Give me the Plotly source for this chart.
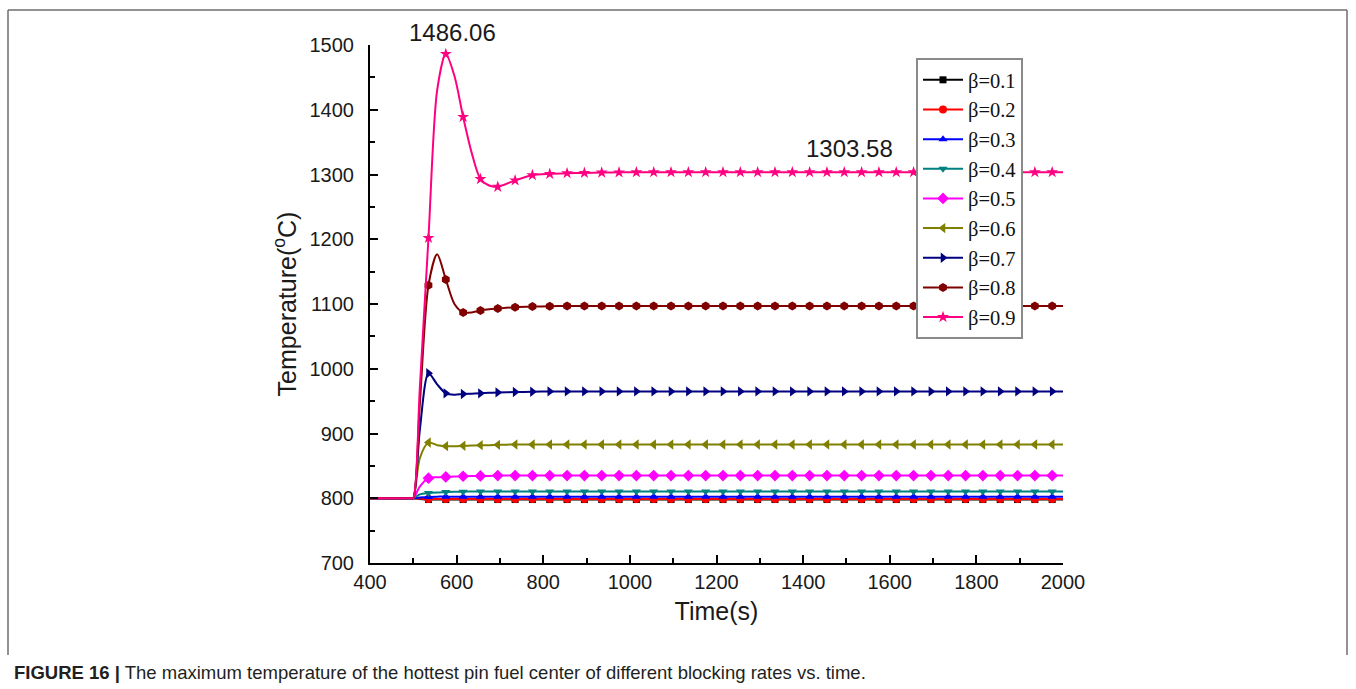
import plotly.graph_objects as go

# Time axis (s): shared sample times for every blocking-rate curve
time_s = [400, 495, 500, 515, 535, 555, 575, 595, 615, 635, 655, 675, 695,
          735, 775, 815, 855, 895, 935, 975, 1015, 1055, 1095, 1135, 1175,
          1215, 1255, 1295, 1335, 1375, 1415, 1455, 1495, 1535, 1575, 1615,
          1655, 1695, 1735, 1775, 1815, 1855, 1895, 1935, 1975, 2000]

# Marker positions along the curves (every 40 s from 535 s)
marker_times = [535, 575, 615, 655, 695, 735, 775, 815, 855, 895, 935, 975,
                1015, 1055, 1095, 1135, 1175, 1215, 1255, 1295, 1335, 1375,
                1415, 1455, 1495, 1535, 1575, 1615, 1655, 1695, 1735, 1775,
                1815, 1855, 1895, 1935, 1975]

labels = ["β=0.1", "β=0.2", "β=0.3", "β=0.4", "β=0.5",
          "β=0.6", "β=0.7", "β=0.8", "β=0.9"]

# Maximum fuel-centre temperature of the hottest pin (°C)
temp_b01 = [800, 800, 800, 799, 798, 798, 798, 798, 798, 798, 798, 798, 798,
            798, 798, 798, 798, 798, 798, 798, 798, 798, 798, 798, 798,
            798, 798, 798, 798, 798, 798, 798, 798, 798, 798, 798,
            798, 798, 798, 798, 798, 798, 798, 798, 798, 798]
temp_b02 = [800, 800, 800, 799.5, 799, 799, 799, 799, 799, 799, 799, 799, 799,
            799, 799, 799, 799, 799, 799, 799, 799, 799, 799, 799, 799,
            799, 799, 799, 799, 799, 799, 799, 799, 799, 799, 799,
            799, 799, 799, 799, 799, 799, 799, 799, 799, 799]
temp_b03 = [800, 800, 800, 801, 802, 802.5, 802.5, 802.5, 802.5, 802.5, 802.5, 802.5, 802.5,
            802.5, 802.5, 802.5, 802.5, 802.5, 802.5, 802.5, 802.5, 802.5, 802.5, 802.5, 802.5,
            802.5, 802.5, 802.5, 802.5, 802.5, 802.5, 802.5, 802.5, 802.5, 802.5, 802.5,
            802.5, 802.5, 802.5, 802.5, 802.5, 802.5, 802.5, 802.5, 802.5, 802.5]
temp_b04 = [800, 800, 800, 806, 808, 809, 809.5, 810, 810, 810.5, 810.5, 810.5, 810.5,
            810.5, 810.5, 810.5, 810.5, 810.5, 810.5, 810.5, 810.5, 810.5, 810.5, 810.5, 810.5,
            810.5, 810.5, 810.5, 810.5, 810.5, 810.5, 810.5, 810.5, 810.5, 810.5, 810.5,
            810.5, 810.5, 810.5, 810.5, 810.5, 810.5, 810.5, 810.5, 810.5, 810.5]
temp_b05 = [800, 800, 800, 818, 831, 832.5, 833, 833.5, 834, 834.5, 834.5, 834.5, 835,
            835, 835, 835, 835, 835, 835, 835, 835, 835, 835, 835, 835,
            835, 835, 835, 835, 835, 835, 835, 835, 835, 835, 835,
            835, 835, 835, 835, 835, 835, 835, 835, 835, 835]
temp_b06 = [800, 800, 800, 862, 886, 882, 880.5, 880.5, 881, 881.5, 882, 882, 882.5,
            883, 883, 883, 883, 883, 883, 883, 883, 883, 883, 883, 883,
            883, 883, 883, 883, 883, 883, 883, 883, 883, 883, 883,
            883, 883, 883, 883, 883, 883, 883, 883, 883, 883]
temp_b07 = [800, 800, 800, 905, 993, 976, 962, 960, 961, 961.5, 962, 963, 963.5,
            964, 964.5, 965, 965, 965, 965, 965, 965, 965, 965, 965, 965,
            965, 965, 965, 965, 965, 965, 965, 965, 965, 965, 965,
            965, 965, 965, 965, 965, 965, 965, 965, 965, 965]
temp_b08 = [800, 800, 800, 945, 1129, 1177, 1138, 1100, 1087, 1087, 1090, 1092, 1093,
            1095, 1096, 1096.5, 1097, 1097, 1097, 1097, 1097, 1097, 1097, 1097, 1097,
            1097, 1097, 1097, 1097, 1097, 1097, 1097, 1097, 1097, 1097, 1097,
            1097, 1097, 1097, 1097, 1097, 1097, 1097, 1097, 1097, 1097]
temp_b09 = [800, 800, 800, 970, 1202, 1430, 1486.06, 1452, 1389, 1333, 1293, 1283, 1281,
            1291, 1299, 1301, 1302, 1302.5, 1303, 1303.3, 1303.5, 1303.58, 1303.58, 1303.58, 1303.58,
            1303.58, 1303.58, 1303.58, 1303.58, 1303.58, 1303.58, 1303.58, 1303.58, 1303.58, 1303.58, 1303.58,
            1303.58, 1303.58, 1303.58, 1303.58, 1303.58, 1303.58, 1303.58, 1303.58, 1303.58, 1303.58]

peak_value = 1486.06
steady_value = 1303.58

series = [temp_b01, temp_b02, temp_b03, temp_b04, temp_b05,
          temp_b06, temp_b07, temp_b08, temp_b09]
colors = ["#000000", "#FF0000", "#0000FF", "#008080", "#FF00FF",
          "#808000", "#000080", "#800000", "#FF0080"]
symbols = ["square", "circle", "triangle-up", "triangle-down", "diamond",
           "triangle-left", "triangle-right", "hexagon", "star"]
msizes = [7, 8, 8, 8, 9, 9, 9, 9, 9]

fig = go.Figure()
for name, vals, col, sym, ms in zip(labels, series, colors, symbols, msizes):
    # smooth curve
    fig.add_trace(go.Scatter(
        x=time_s, y=vals, mode="lines", showlegend=False, hoverinfo="skip",
        line=dict(color=col, width=2, shape="spline", smoothing=0.8)))
    # symbols every 40 s
    mx = [t for t in time_s if t in marker_times]
    my = [v for t, v in zip(time_s, vals) if t in marker_times]
    fig.add_trace(go.Scatter(
        x=mx, y=my, mode="markers", showlegend=False,
        marker=dict(symbol=sym, size=ms, color=col, line=dict(width=0))))
    # legend entry
    fig.add_trace(go.Scatter(
        x=[None], y=[None], mode="lines+markers", name=name,
        line=dict(color=col, width=2),
        marker=dict(symbol=sym, size=ms, color=col, line=dict(width=0))))

L, R, T, B = 370, 293, 45, 126
W, H = 1356, 689
pw, ph = W - L - R, H - T - B


def px(xp):
    return (xp - L) / pw


def py(yp):
    return (H - B - yp) / ph


dark = "#1a1a1a"
axis_font = dict(family="Arial, Liberation Sans", size=20, color=dark)
title_font = dict(family="Arial, Liberation Sans", size=25, color=dark)

fig.update_layout(
    width=W, height=H,
    margin=dict(l=L, r=R, t=T, b=B),
    paper_bgcolor="white", plot_bgcolor="white",
    showlegend=True,
    legend=dict(
        x=px(916), y=py(58), xanchor="left", yanchor="top",
        bgcolor="white", bordercolor="#8a8a8a", borderwidth=2,
        font=dict(family="Liberation Serif, Times New Roman", size=20.5, color="#111"),
        itemwidth=40, tracegroupgap=0),
    xaxis=dict(
        range=[400, 2000], dtick=200, tick0=400,
        showline=True, linecolor="black", linewidth=2,
        ticks="inside", ticklen=8, tickwidth=2, tickcolor="black",
        minor=dict(dtick=100, ticks="inside", ticklen=5, tickwidth=1.5, tickcolor="black"),
        showgrid=False, zeroline=False, tickfont=axis_font,
        title=dict(text="Time(s)", font=title_font, standoff=10),
    ),
    yaxis=dict(
        range=[700, 1500], dtick=100, tick0=700,
        showline=True, linecolor="black", linewidth=2,
        ticks="inside", ticklen=8, tickwidth=2, tickcolor="black",
        minor=dict(dtick=50, ticks="inside", ticklen=5, tickwidth=1.5, tickcolor="black"),
        showgrid=False, zeroline=False, tickfont=axis_font, ticklabelstandoff=10,
        title=dict(text="Temperature(<sup>o</sup>C)", font=title_font, standoff=6),
    ),
)

# value labels
label_font = dict(family="Arial, Liberation Sans", size=24, color=dark)
fig.add_annotation(x=591, y=peak_value, text=f"{peak_value:.2f}", showarrow=False,
                   yshift=22, font=label_font)
fig.add_annotation(x=1508, y=steady_value, text=f"{steady_value:.2f}", showarrow=False,
                   yshift=24, font=label_font)

# figure frame and caption
frame = dict(color="#6e6e6e", width=1.5)
fig.add_shape(type="line", xref="paper", yref="paper", x0=px(8), x1=px(1347),
              y0=py(10), y1=py(10), line=frame)
fig.add_shape(type="line", xref="paper", yref="paper", x0=px(8), x1=px(8),
              y0=py(10), y1=py(655), line=frame)
fig.add_shape(type="line", xref="paper", yref="paper", x0=px(1347), x1=px(1347),
              y0=py(10), y1=py(655), line=frame)
fig.add_annotation(
    xref="paper", yref="paper", x=px(12), y=py(672), xanchor="left", yanchor="middle",
    showarrow=False,
    text="<b>FIGURE 16 |</b> The maximum temperature of the hottest pin fuel center of different blocking rates vs. time.",
    font=dict(family="Liberation Sans Narrow, Arial Narrow, Liberation Sans", size=18.5, color="#231f20"))

fig.write_html("out.html")
